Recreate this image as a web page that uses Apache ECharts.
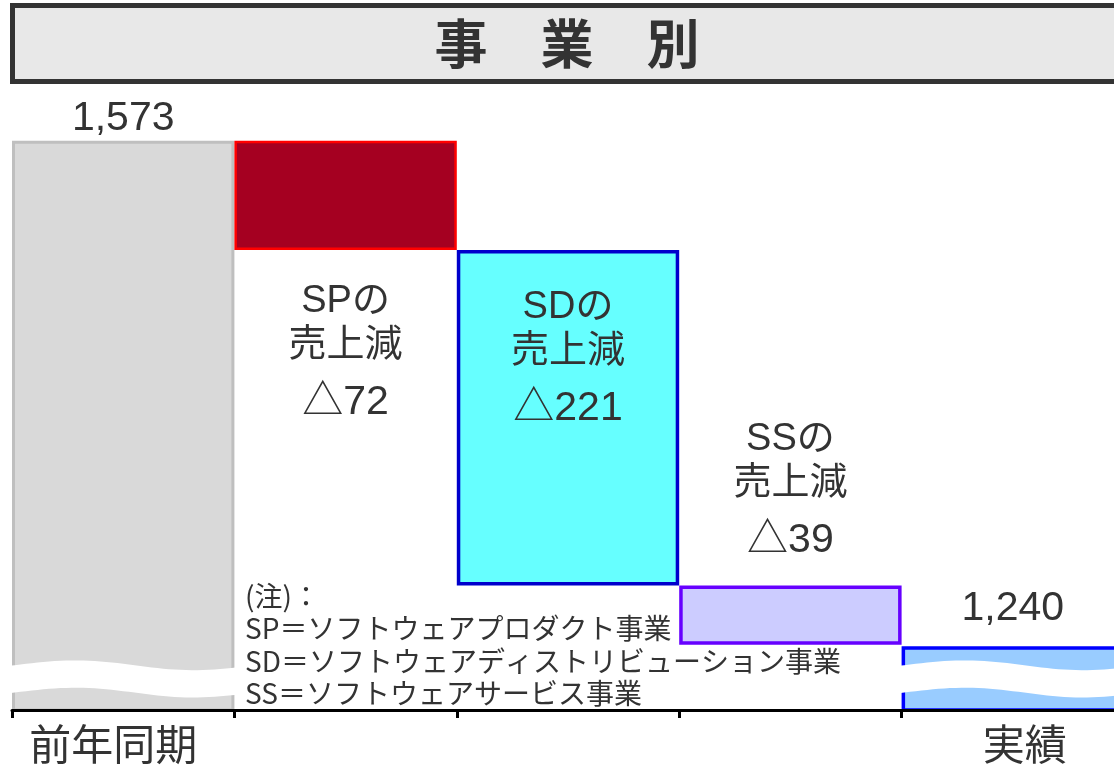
<!DOCTYPE html>
<html>
<head>
<meta charset="utf-8">
<script src="https://cdn.jsdelivr.net/npm/echarts@6/dist/echarts.min.js"></script>
<style>
    html, body { margin: 0; padding: 0; background: #fff; overflow: hidden; }
    #main { width: 1124px; height: 767px; }
</style>
</head>
<body>
<div id="main"></div>
<script>
    // data
    var categories = ['前年同期', 'SP', 'SD', 'SS', '実績'];
    var tickLabels = ['前年同期', '', '', '', '実績'];
    var priorTotal = 1573;
    var segmentNames = ['SP', 'SD', 'SS'];
    var decreases = [72, 221, 39];
    var currentTotal = 1240;
    var noteLines = [
        '(注)：',
        'SP＝ソフトウェアプロダクト事業',
        'SD＝ソフトウェアディストリビューション事業',
        'SS＝ソフトウェアサービス事業'
    ];

    // waterfall: invisible base + visible step
    var values = [priorTotal].concat(decreases).concat([currentTotal]);
    var bases = [0];
    var level = priorTotal;
    decreases.forEach(function (d) {
        level -= d;
        bases.push(level);
    });
    bases.push(0);

    var fills   = ['#d9d9d9', '#a50021', '#66ffff', '#ccccff', '#99ccff'];
    var borders = ['#bfbfbf', '#ff0000', '#0000cc', '#6600ff', '#0000ff'];
    var borderW = [3, 2.5, 3.5, 3.5, 3.5];

    // axis break band (value range hidden by the wavy cut)
    var breakTop = 1228;
    var breakBottom = 1210;
    var breakCats = [0, 4];

    var numFont = "'Liberation Sans', 'Noto Sans CJK JP', sans-serif";
    var jpFont = "'Noto Sans CJK JP', sans-serif";

    var richText = {
        a: { fontSize: 38, lineHeight: 44, color: '#333', fontFamily: numFont },
        b: { fontSize: 41, lineHeight: 70, color: '#333', fontFamily: numFont }
    };
    var labelSpots = [
        { position: 'bottom', distance: 30 },
        { position: 'insideTop', distance: 36 },
        { position: 'top', distance: 10 }
    ];

    var stepData = values.map(function (v, i) {
        var item = {
            value: v,
            itemStyle: { color: fills[i], borderColor: borders[i], borderWidth: borderW[i] }
        };
        if (i === 0 || i === values.length - 1) {
            item.label = { position: 'top', distance: i === 0 ? 1 : 17, fontSize: 41, color: '#333', fontFamily: numFont };
        } else {
            item.label = labelSpots[i - 1];
        }
        return item;
    });

    // wavy white cut, sampled as a polygon
    function wave(x0, x1, y, n) {
        var pts = [];
        for (var k = 0; k <= n; k++) {
            var t = k / n;
            pts.push([x0 + (x1 - x0) * t, y + 4.5 * Math.sin(2 * Math.PI * (t - 0.05) + Math.PI) + 1.5 * t]);
        }
        return pts;
    }

    var myChart = echarts.init(document.getElementById('main'));
    var option = {
        backgroundColor: '#fff',
        animation: false,
        grid: { left: 12, top: 130, right: 0, height: 580 },
        xAxis: {
            type: 'category',
            data: categories,
            z: 10,
            axisLine: { show: true, lineStyle: { color: '#000', width: 3 } },
            axisTick: { show: true, alignWithLabel: false, interval: 0, lineStyle: { color: '#000', width: 3 }, length: 8 },
            axisLabel: {
                interval: 0,
                margin: 13,
                fontSize: 42,
                color: '#333',
                fontFamily: jpFont,
                formatter: function (v, i) {
                    if (i === 0) return '{l|' + tickLabels[i] + '}';
                    if (i === 4) return '{r|' + tickLabels[i] + '}';
                    return tickLabels[i];
                },
                rich: {
                    l: { fontSize: 42, color: '#333', fontFamily: jpFont, padding: [0, 20, 0, 0] },
                    r: { fontSize: 42, color: '#333', fontFamily: jpFont, padding: [0, 0, 0, 24] }
                }
            }
        },
        yAxis: {
            type: 'value',
            min: 1198,
            max: 1580,
            show: false,
            splitLine: { show: false }
        },
        series: [
            {
                name: 'base',
                type: 'bar',
                stack: 'wf',
                barWidth: '100%',
                itemStyle: { color: 'transparent' },
                data: bases,
                silent: true
            },
            {
                name: 'step',
                type: 'bar',
                stack: 'wf',
                barWidth: '100%',
                data: stepData,
                label: {
                    show: true,
                    formatter: function (p) {
                        var i = p.dataIndex;
                        if (i === 0 || i === values.length - 1) {
                            return p.value.toLocaleString('en-US');
                        }
                        return '{a|' + segmentNames[i - 1] + 'の}\n{a|売上減}\n{b|△' + p.value + '}';
                    },
                    rich: richText
                }
            },
            {
                name: 'break',
                type: 'custom',
                silent: true,
                z: 5,
                clip: false,
                data: breakCats.map(function (c) { return [c, breakTop]; }),
                encode: { x: 0, y: 1 },
                renderItem: function (params, api) {
                    var c = api.value(0);
                    var w = api.size([1, 0])[0];
                    var cx = api.coord([c, breakTop])[0];
                    var x0 = cx - w / 2 - 3;
                    var x1 = cx + w / 2 + 3;
                    var T = api.coord([c, breakTop])[1];
                    var B = api.coord([c, breakBottom])[1];
                    var top = wave(x0, x1, T, 40);
                    var bottom = wave(x0, x1, B, 40).reverse();
                    return {
                        type: 'polygon',
                        shape: { points: top.concat(bottom) },
                        style: { fill: '#ffffff' }
                    };
                }
            }
        ],
        graphic: [
            {
                type: 'rect',
                shape: { x: 12.5, y: 5.5, width: 1120, height: 76 },
                style: { fill: '#e8e8e8', stroke: '#333', lineWidth: 5 }
            },
            {
                type: 'text',
                x: 567,
                y: 44,
                style: {
                    text: '事　業　別',
                    fontSize: 53,
                    fontWeight: 'bold',
                    fontFamily: jpFont,
                    fill: '#333',
                    align: 'center',
                    verticalAlign: 'middle'
                }
            },
            {
                type: 'text',
                x: 245,
                y: 580,
                z: 100,
                style: {
                    text: noteLines.join('\n'),
                    fontSize: 28,
                    lineHeight: 32.4,
                    fontFamily: jpFont,
                    fill: '#333',
                    align: 'left',
                    verticalAlign: 'top'
                }
            }
        ]
    };
    myChart.setOption(option);
</script>
</body>
</html>
